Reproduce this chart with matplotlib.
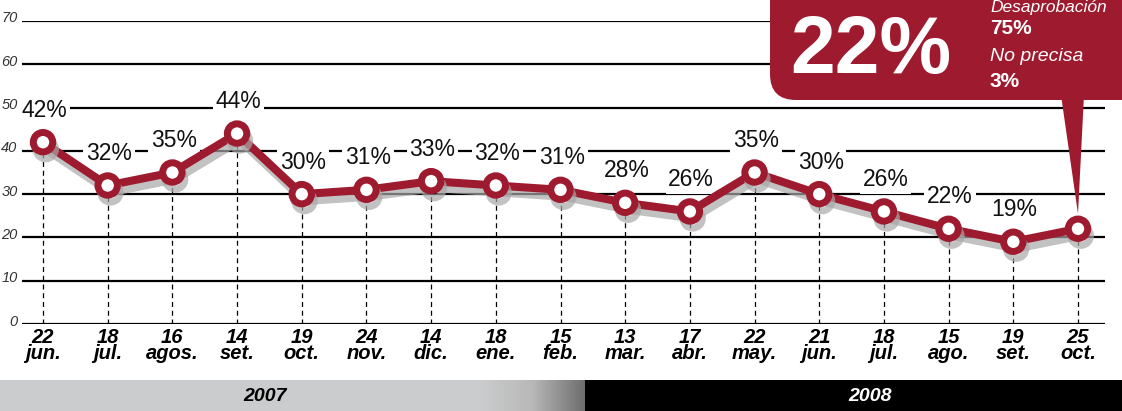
import matplotlib
matplotlib.use("Agg")
import matplotlib.pyplot as plt
import numpy as np
from matplotlib import font_manager
from matplotlib.patches import FancyBboxPatch, Polygon, Rectangle
from matplotlib.transforms import ScaledTranslation
import matplotlib.patheffects as pe

# ---------------- data ----------------
days = ["22", "18", "16", "14", "19", "24", "14", "18", "15", "13", "17", "22", "21", "18", "15", "19", "25"]
months = ["jun.", "jul.", "agos.", "set.", "oct.", "nov.", "dic.", "ene.", "feb.", "mar.", "abr.", "may.",
          "jun.", "jul.", "ago.", "set.", "oct."]
approval = [42, 32, 35, 44, 30, 31, 33, 32, 31, 28, 26, 35, 30, 26, 22, 19, 22]
yticks = [0, 10, 20, 30, 40, 50, 60, 70]
years = ["2007", "2008"]
callout_main = "22%"
callout_lines = [("Desaprobación", "italic", "normal"), ("75%", "normal", "bold"),
                 ("No precisa", "italic", "normal"), ("3%", "normal", "bold")]

# ---------------- fonts ----------------
avail = {f.name for f in font_manager.fontManager.ttflist}
def pick(*names):
    for n in names:
        if n in avail:
            return n
    return "DejaVu Sans"
NARROW = pick("Liberation Sans Narrow", "Liberation Sans", "Arial")
SANS = pick("Liberation Sans", "Arial", "DejaVu Sans")

RED = "#9e1a2e"
W, H = 1122, 411
fig = plt.figure(figsize=(W / 100, H / 100), dpi=100)

# main axes in pixel layout
x_left, x_right, y_zero, y_top = 22, 1105, 324, 21
ax = fig.add_axes([x_left / W, (H - y_zero) / H, (x_right - x_left) / W, (y_zero - y_top) / H])
n = len(approval)
x = np.arange(n)
step = (1078 - 43) / (n - 1)
ax.set_xlim(-(43 - x_left) / step, (n - 1) + (x_right - 1078) / step)
ax.set_ylim(0, 70)
for s in ax.spines.values():
    s.set_visible(False)
ax.patch.set_alpha(0)

# grid lines
for yv in yticks:
    ax.axhline(yv, color="black", lw=1.6, zorder=1)

# dashed verticals
ax.vlines(x, 0, approval, colors="black", lw=0.9, linestyles=(0, (4, 3)), zorder=1.5)

# line with shadow
ln, = ax.plot(x, approval, color=RED, lw=5.8, marker="o", ms=14, mfc="white", mec=RED, mew=5,
              zorder=4, solid_joinstyle="round")
ln.set_path_effects([pe.SimpleLineShadow(offset=(2, -5), shadow_color="#a8a8a8", alpha=0.7),
                     pe.Normal()])

# value labels (the last value is shown in the callout)
for xi, v in zip(x[:-1], approval[:-1]):
    ax.annotate(f"{v}%", (xi, v), xytext=(1, 23), textcoords="offset points",
                ha="center", va="center", fontsize=16.5, family=NARROW, color="#111111",
                bbox=dict(boxstyle="square,pad=0.12", fc="white", ec="none"), zorder=3)

# ticks
ax.set_yticks(yticks)
ax.set_yticklabels([str(t) for t in yticks], fontsize=10.5, style="italic", family=SANS, color="#333333")
ax.tick_params(axis="y", length=0, pad=3.2)
for lab in ax.get_yticklabels():
    lab.set_transform(lab.get_transform() + ScaledTranslation(0, 4 / 100, fig.dpi_scale_trans))
ax.set_xticks(x)
ax.set_xticklabels([f"{d}\n{m}" for d, m in zip(days, months)], fontsize=14.5, family=SANS,
                   style="italic", weight="bold", linespacing=0.82)
ax.tick_params(axis="x", length=0, pad=3)

# ---------------- overlay in pixel coordinates ----------------
ov = fig.add_axes([0, 0, 1, 1])
ov.set_xlim(0, W)
ov.set_ylim(H, 0)
ov.axis("off")
ov.patch.set_alpha(0)

# callout
box = FancyBboxPatch((770, -40), 400, 140, boxstyle="round,pad=0,rounding_size=26",
                     fc=RED, ec="none", zorder=5)
ov.add_patch(box)
tip_disp = ax.transData.transform((x[-1], approval[-1]))
tip = ov.transData.inverted().transform(tip_disp)
ov.add_patch(Polygon([(1061, 95), (1084, 95), (tip[0], tip[1] - 15)], closed=True, fc=RED, ec="none", zorder=5))
ov.text(790, 73, callout_main, color="white", fontsize=58, weight="bold", family=SANS,
        ha="left", va="baseline", zorder=6)
bases = [12, 34, 61, 87]
sizes = [12.5, 15, 14, 15]
for (txt, st, wt), b, sz in zip(callout_lines, bases, sizes):
    ov.text(990, b, txt, color="white", fontsize=sz, style=st, weight=wt, family=SANS,
            ha="left", va="baseline", zorder=6)

# bottom year band
band_top = 380
ov.add_patch(Rectangle((0, band_top), 585, H - band_top, fc="#cbcccd", ec="none", zorder=5))
grad = np.linspace(0, 1, 200)[None, :]
ov.imshow(grad, extent=(480, 585, H, band_top), cmap=matplotlib.colors.LinearSegmentedColormap.from_list(
    "g", ["#cbcccd", "#b8b8b8", "#6e6e6e"]), aspect="auto", zorder=5.5)
ov.add_patch(Rectangle((585, band_top), W - 585, H - band_top, fc="black", ec="none", zorder=5.6))
ov.set_xlim(0, W)
ov.set_ylim(H, 0)
ov.text(265, 396, years[0], color="black", fontsize=14, style="italic", weight="bold", family=SANS,
        ha="center", va="center", zorder=6)
ov.text(870, 396, years[1], color="white", fontsize=14, style="italic", weight="bold", family=SANS,
        ha="center", va="center", zorder=6)

fig.savefig("out.png", dpi=100)
